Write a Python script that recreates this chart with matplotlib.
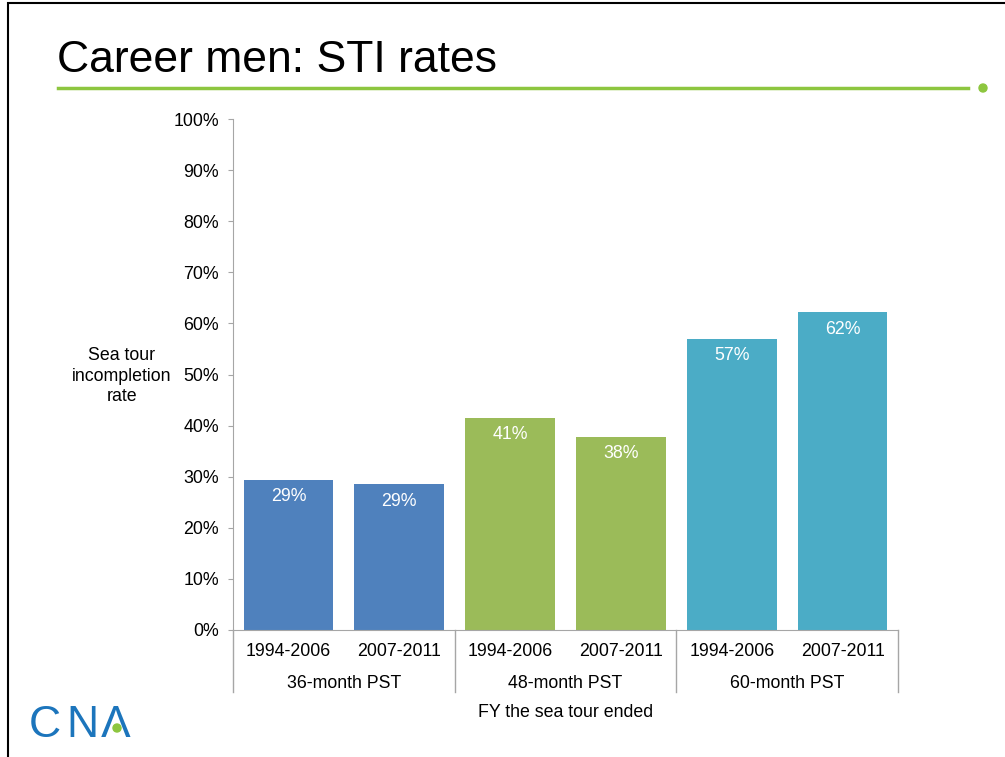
import matplotlib
matplotlib.use("Agg")
import matplotlib.pyplot as plt
from matplotlib.lines import Line2D
from matplotlib.patches import Ellipse, Rectangle
import numpy as np

plt.rcParams['font.family'] = ['Liberation Sans', 'DejaVu Sans']

# data
periods = ["1994-2006", "2007-2011", "1994-2006", "2007-2011", "1994-2006", "2007-2011"]
groups = ["36-month PST", "48-month PST", "60-month PST"]
rates = [0.294, 0.285, 0.415, 0.378, 0.570, 0.622]
labels = ["29%", "29%", "41%", "38%", "57%", "62%"]
colors = ["#4F81BD", "#4F81BD", "#9BBB59", "#9BBB59", "#4BACC6", "#4BACC6"]

W, H = 1005, 757
fs = 12.8
fig = plt.figure(figsize=(W / 100, H / 100), dpi=100)


def dot(px, py, r, color):
    # round dot given in pixel units
    fig.patches.append(Ellipse((px / W, 1 - py / H), 2 * r / W, 2 * r / H,
                               transform=fig.transFigure, color=color))


# slide frame
fig.patches.append(Rectangle((8 / W, -0.1), 1.2, 1 - 3 / H + 0.1, transform=fig.transFigure,
                             fill=False, edgecolor="black", linewidth=1.5))

# title + green rule
fig.text(57 / W, 1 - 60 / H, "Career men: STI rates", fontsize=32, va="center", ha="left", color="black")
fig.add_artist(Line2D([58 / W, 968 / W], [1 - 88 / H, 1 - 88 / H], color="#8DC63F", linewidth=2.5,
                      transform=fig.transFigure))
dot(983, 88, 4, "#8DC63F")

ax = fig.add_axes([233 / W, 1 - 630 / H, (898 - 233) / W, (630 - 119) / H])
x = np.arange(len(rates))
ax.bar(x, rates, width=0.81, color=colors)
for xi, r, lab in zip(x, rates, labels):
    ax.text(xi, r - 0.033, lab, ha="center", va="center", color="white", fontsize=fs)

ax.set_xlim(-0.5, len(rates) - 0.5)
ax.set_ylim(0, 1)
ticks = np.arange(0, 1.01, 0.1)
ax.set_yticks(ticks)
ax.set_yticklabels([f"{int(round(v * 100))}%" for v in ticks], fontsize=fs)
ax.tick_params(axis="y", length=3.5, color="#A6A6A6", pad=6.5)
ax.set_xticks([])
for s in ["top", "right"]:
    ax.spines[s].set_visible(False)
ax.spines["left"].set_color("#A6A6A6")
ax.spines["bottom"].set_color("#A6A6A6")

tr = ax.get_xaxis_transform()
for xi, p in zip(x, periods):
    ax.text(xi, -0.043, p, transform=tr, ha="center", va="center", fontsize=fs)
for gi, g in enumerate(groups):
    ax.text(2 * gi + 0.5, -0.104, g, transform=tr, ha="center", va="center", fontsize=fs)
for b in [-0.5, 1.5, 3.5, 5.5]:
    ax.add_line(Line2D([b, b], [0, -0.122], transform=tr, color="#A6A6A6", linewidth=1, clip_on=False))
ax.text(2.5, -0.162, "FY the sea tour ended", transform=tr, ha="center", va="center", fontsize=fs)

fig.text(122 / W, 1 - 376 / H, "Sea tour\nincompletion\nrate", ha="center", va="center",
         fontsize=fs, linespacing=1.3)

# CNA logo
for ch, px in zip(["C", "N", "\u039b"], [44.5, 82, 116]):
    fig.text(px / W, 1 - 737 / H, ch, fontsize=32, color="#1C75BC", ha="center", va="baseline")
dot(117, 728, 4, "#8DC63F")

fig.savefig("out.png", dpi=100)
